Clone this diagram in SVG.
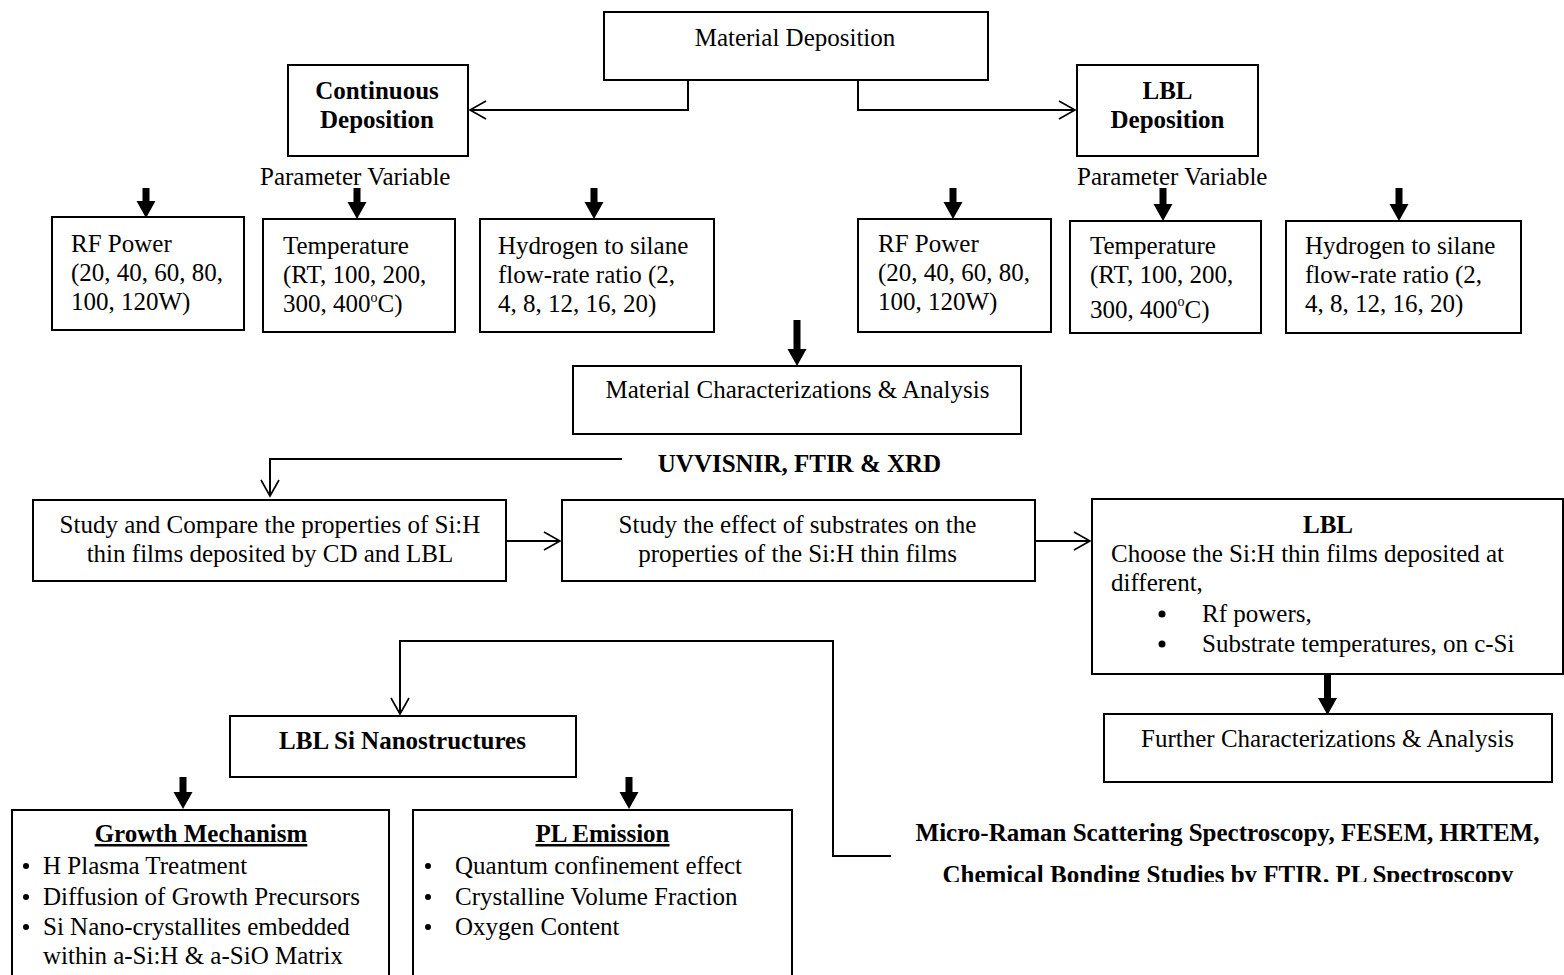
<svg xmlns="http://www.w3.org/2000/svg" width="1564" height="975" viewBox="0 0 1564 975">
<style>
text{font-family:"Liberation Serif","Times New Roman",serif;font-size:25px;fill:#000}
.b{font-weight:bold}
.c{text-anchor:middle}
.box{fill:#fff;stroke:#000;stroke-width:2}
.con{fill:none;stroke:#000;stroke-width:2}
.thick{fill:#000;stroke:none}
</style>
<defs>
<marker id="open" markerUnits="userSpaceOnUse" markerWidth="22" markerHeight="22" viewBox="0 0 22 22" refX="19" refY="11" orient="auto">
<path d="M3,2 L19,11 L3,20" fill="none" stroke="#000" stroke-width="1.6"/>
</marker>
<clipPath id="clipChem"><rect x="880" y="850" width="684" height="32"/></clipPath>
</defs>
<rect width="1564" height="975" fill="#fff"/>

<g id="connectors">
<polyline class="con" points="688,80 688,110 470,110" marker-end="url(#open)"/>
<polyline class="con" points="858,80 858,110 1075,110" marker-end="url(#open)"/>
<polyline class="con" points="622,459 270,459 270,496" marker-end="url(#open)"/>
<line class="con" x1="506" y1="541" x2="560" y2="541" marker-end="url(#open)"/>
<line class="con" x1="1035" y1="541" x2="1090" y2="541" marker-end="url(#open)"/>
<polyline class="con" points="891,856 833,856 833,641 400,641 400,714" marker-end="url(#open)"/>
<path class="thick" d="M142.5,188 H149.5 V201 H155.5 L146,218 L136.5,201 H142.5 Z"/>
<path class="thick" d="M353.5,188 H360.5 V202 H366.5 L357,219 L347.5,202 H353.5 Z"/>
<path class="thick" d="M590.5,188 H597.5 V202 H603.5 L594,219 L584.5,202 H590.5 Z"/>
<path class="thick" d="M949.5,188 H956.5 V202 H962.5 L953,219 L943.5,202 H949.5 Z"/>
<path class="thick" d="M1159.5,188 H1166.5 V204 H1172.5 L1163,221 L1153.5,204 H1159.5 Z"/>
<path class="thick" d="M1395.5,188 H1402.5 V204 H1408.5 L1399,221 L1389.5,204 H1395.5 Z"/>
<path class="thick" d="M793.5,320 H800.5 V349 H806.5 L797,366 L787.5,349 H793.5 Z"/>
<path class="thick" d="M1324,671 H1331 V698 H1337 L1327.5,715 L1318,698 H1324 Z"/>
<path class="thick" d="M179.5,777 H186.5 V792 H192.5 L183,809 L173.5,792 H179.5 Z"/>
<path class="thick" d="M625.5,777 H632.5 V792 H638.5 L629,809 L619.5,792 H625.5 Z"/>
</g>

<g id="material-deposition">
<rect class="box" x="604" y="12" width="384" height="68"/>
<text x="795" y="46" class="c">Material Deposition</text>
</g>

<g id="continuous-deposition">
<rect class="box" x="288" y="65" width="180" height="91"/>
<text x="377" y="99" class="c b">Continuous</text>
<text x="377" y="128" class="c b">Deposition</text>
</g>

<g id="lbl-deposition">
<rect class="box" x="1077" y="65" width="181" height="91"/>
<text x="1167.5" y="99" class="c b">LBL</text>
<text x="1167.5" y="128" class="c b">Deposition</text>
</g>

<g id="param-label-left"><text x="260" y="185">Parameter Variable</text></g>
<g id="param-label-right"><text x="1077" y="185">Parameter Variable</text></g>

<g id="cd-rf-power">
<rect class="box" x="52" y="217" width="192" height="113"/>
<text x="71" y="252">RF Power</text>
<text x="71" y="281">(20, 40, 60, 80,</text>
<text x="71" y="310">100, 120W)</text>
</g>

<g id="cd-temperature">
<rect class="box" x="263" y="219" width="192" height="113"/>
<text x="283" y="254">Temperature</text>
<text x="283" y="283">(RT, 100, 200,</text>
<text x="283" y="312">300, 400<tspan font-size="14" dy="-10">o</tspan><tspan dy="10">C)</tspan></text>
</g>

<g id="cd-hydrogen">
<rect class="box" x="480" y="219" width="234" height="113"/>
<text x="498" y="254">Hydrogen to silane</text>
<text x="498" y="283">flow-rate ratio (2,</text>
<text x="498" y="312">4, 8, 12, 16, 20)</text>
</g>

<g id="lbl-rf-power">
<rect class="box" x="858" y="219" width="193" height="113"/>
<text x="878" y="252">RF Power</text>
<text x="878" y="281">(20, 40, 60, 80,</text>
<text x="878" y="310">100, 120W)</text>
</g>

<g id="lbl-temperature">
<rect class="box" x="1070" y="221" width="191" height="112"/>
<text x="1090" y="254">Temperature</text>
<text x="1090" y="283">(RT, 100, 200,</text>
<text x="1090" y="318">300, 400<tspan font-size="14" dy="-12">o</tspan><tspan dy="12">C)</tspan></text>
</g>

<g id="lbl-hydrogen">
<rect class="box" x="1286" y="221" width="235" height="112"/>
<text x="1305" y="254">Hydrogen to silane</text>
<text x="1305" y="283">flow-rate ratio (2,</text>
<text x="1305" y="312">4, 8, 12, 16, 20)</text>
</g>

<g id="material-characterizations">
<rect class="box" x="573" y="366" width="448" height="68"/>
<text x="797.5" y="398" class="c">Material Characterizations &amp; Analysis</text>
</g>

<g id="uvvisnir-label"><text x="799.5" y="472" class="c b">UVVISNIR, FTIR &amp; XRD</text></g>

<g id="study-compare">
<rect class="box" x="33" y="500" width="473" height="81"/>
<text x="270" y="533" class="c">Study and Compare the properties of Si:H</text>
<text x="270" y="562" class="c">thin films deposited by CD and LBL</text>
</g>

<g id="study-substrates">
<rect class="box" x="562" y="500" width="473" height="81"/>
<text x="797.5" y="533" class="c">Study the effect of substrates on the</text>
<text x="797.5" y="562" class="c">properties of the Si:H thin films</text>
</g>

<g id="lbl-choose">
<rect class="box" x="1092" y="499" width="471" height="175"/>
<text x="1328" y="533" class="c b">LBL</text>
<text x="1111" y="562">Choose the Si:H thin films deposited at</text>
<text x="1111" y="591">different,</text>
<circle cx="1162" cy="614" r="3.5"/>
<text x="1202" y="622">Rf powers,</text>
<circle cx="1162" cy="644" r="3.5"/>
<text x="1202" y="652">Substrate temperatures, on c-Si</text>
</g>

<g id="further-characterizations">
<rect class="box" x="1104" y="714" width="448" height="68"/>
<text x="1327.5" y="747" class="c">Further Characterizations &amp; Analysis</text>
</g>

<g id="lbl-si-nanostructures">
<rect class="box" x="230" y="716" width="346" height="61"/>
<text x="402.5" y="749" class="c b">LBL Si Nanostructures</text>
</g>

<g id="growth-mechanism">
<rect class="box" x="12" y="810" width="377" height="200"/>
<text x="201" y="842" class="c b" text-decoration="underline">Growth Mechanism</text>
<circle cx="26" cy="866" r="3"/>
<text x="43" y="874">H Plasma Treatment</text>
<circle cx="26" cy="897" r="3"/>
<text x="43" y="905">Diffusion of Growth Precursors</text>
<circle cx="26" cy="927" r="3"/>
<text x="43" y="935">Si Nano-crystallites embedded</text>
<text x="43" y="964">within a-Si:H &amp; a-SiO Matrix</text>
</g>

<g id="pl-emission">
<rect class="box" x="413" y="810" width="379" height="200"/>
<text x="602.5" y="842" class="c b" text-decoration="underline">PL Emission</text>
<circle cx="428" cy="866" r="3"/>
<text x="455" y="874">Quantum confinement effect</text>
<circle cx="428" cy="897" r="3"/>
<text x="455" y="905">Crystalline Volume Fraction</text>
<circle cx="428" cy="927" r="3"/>
<text x="455" y="935">Oxygen Content</text>
</g>

<g id="micro-raman-label">
<text x="1227.5" y="841" class="c b">Micro-Raman Scattering Spectroscopy, FESEM, HRTEM,</text>
<text x="1228" y="883" class="c b" clip-path="url(#clipChem)">Chemical Bonding Studies by FTIR, PL Spectroscopy</text>
</g>
</svg>
